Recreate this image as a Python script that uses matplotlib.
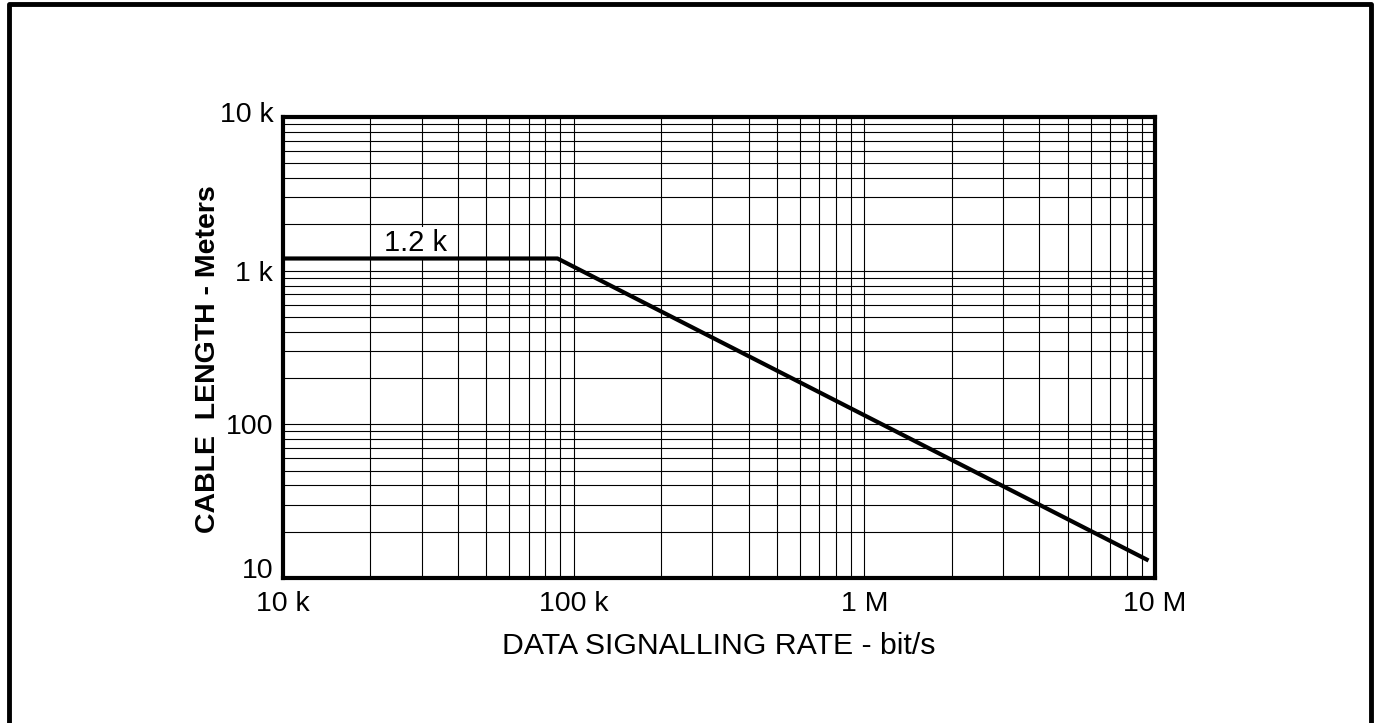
import matplotlib
matplotlib.use("Agg")
import matplotlib.pyplot as plt
from matplotlib.lines import Line2D
from matplotlib.transforms import ScaledTranslation

# data
rate = [1e4, 88e3, 9.5e6]          # bit/s
length = [1200, 1200, 13]         # m
x_ticks = [1e4, 1e5, 1e6, 1e7]
x_labels = ["10 k", "100 k", "1 M", "10 M"]
y_ticks = [10, 100, 1e3, 1e4]
y_labels = ["10", "100", "1 k", "10 k"]

plt.rcParams["font.family"] = ["Liberation Sans", "DejaVu Sans"]

fig = plt.figure(figsize=(13.76, 7.23), dpi=100)
W, H = 1376, 723
ax = fig.add_axes([283 / W, 1 - 578 / H, (1155 - 283) / W, (578 - 117) / H])

ax.set_xscale("log")
ax.set_yscale("log")
ax.set_xlim(1e4, 1e7)
ax.set_ylim(10, 1e4)

ax.grid(True, which="both", color="black", linewidth=0.8)
ax.set_axisbelow(True)

ax.plot(rate, length, color="black", linewidth=3, solid_capstyle="butt", zorder=3)
ax.text(2.85e4, 1230, "1.2 k", fontsize=21, ha="center", va="bottom",
        bbox=dict(facecolor="white", edgecolor="none", pad=1), zorder=2.5)

ax.set_xticks(x_ticks)
ax.set_xticklabels(x_labels)
ax.set_yticks(y_ticks)
ax.set_yticklabels(y_labels)
ax.minorticks_on()
ax.tick_params(which="both", length=0, labelsize=20.5)
ax.tick_params(axis="x", which="major", pad=9.5)
ax.tick_params(axis="y", which="major", pad=7)
ax.tick_params(axis="x", which="minor", labelbottom=False)
ax.tick_params(axis="y", which="minor", labelleft=False)
ax.get_yticklabels()[0].set_va("baseline")
top_lab = ax.get_yticklabels()[-1]
top_lab.set_transform(top_lab.get_transform() + ScaledTranslation(0, 5 / 100, fig.dpi_scale_trans))

for s in ax.spines.values():
    s.set_linewidth(3)

ax.set_xlabel("DATA SIGNALLING RATE - bit/s", fontsize=21.8, labelpad=10.5)
ax.set_ylabel("CABLE  LENGTH - Meters", fontsize=20.5, fontweight="bold")
ax.yaxis.label.set_va("center")
ax.yaxis.set_label_coords(-0.086, 0.475)

# outer frame (left, top, right)
fx = [9 / W, 9 / W, 1371 / W, 1371 / W]
fy = [0, 1 - 4 / H, 1 - 4 / H, 0]
fig.add_artist(Line2D(fx, fy, color="black", linewidth=3.5, transform=fig.transFigure))

fig.savefig("out.png", dpi=100)
